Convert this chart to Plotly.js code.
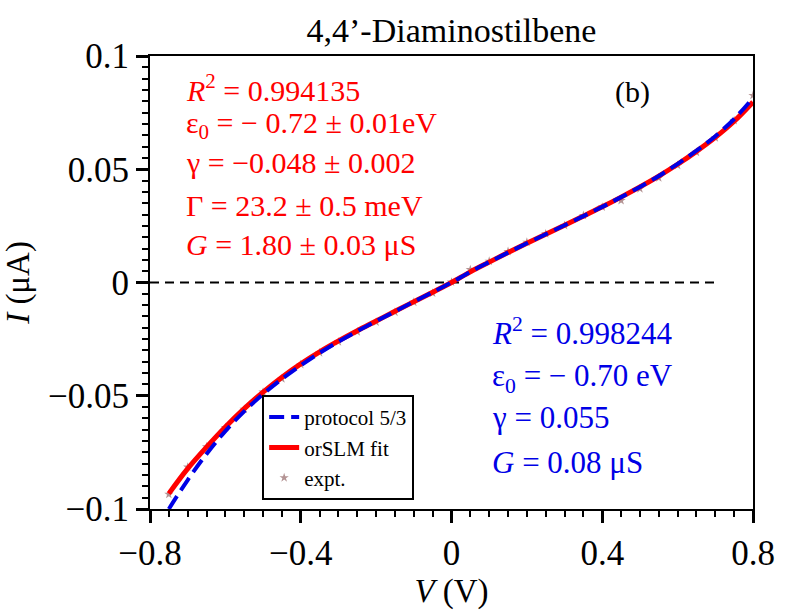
<!DOCTYPE html>
<html><head><meta charset="utf-8">
<script src="https://cdn.plot.ly/plotly-3.0.1.min.js"></script>
<style>html,body{margin:0;padding:0;background:#fff}</style>
</head><body>
<div id="chart" style="width:792px;height:612px"></div>
<script>
// Bias voltage (V)
const voltage = [-0.75,-0.70,-0.65,-0.60,-0.55,-0.50,-0.45,-0.40,-0.35,-0.30,-0.25,-0.20,-0.15,-0.10,-0.05,0.00,
                 0.05,0.10,0.15,0.20,0.25,0.30,0.35,0.40,0.45,0.50,0.55,0.60,0.65,0.70,0.75,0.80];
// orSLM fit current (uA)
const fitCurrent = [-0.0932,-0.0822,-0.0727,-0.0638,-0.0557,-0.0484,-0.0418,-0.0359,-0.0306,-0.0258,-0.0213,-0.0170,-0.0127,-0.0085,-0.0043,0.0000,
                    0.0047,0.0090,0.0132,0.0173,0.0213,0.0253,0.0293,0.0334,0.0377,0.0422,0.0470,0.0522,0.0579,0.0641,0.0712,0.0797];
// protocol 5/3 current (uA)
const protocolCurrent = [-0.1000,-0.0872,-0.0757,-0.0656,-0.0569,-0.0493,-0.0426,-0.0366,-0.0311,-0.0261,-0.0215,-0.0171,-0.0128,-0.0085,-0.0043,0.0000,
                         0.0047,0.0090,0.0132,0.0173,0.0213,0.0253,0.0293,0.0334,0.0377,0.0422,0.0470,0.0524,0.0582,0.0646,0.0722,0.0815];
// experimental current (uA)
const exptCurrent = [-0.0935,-0.0815,-0.0725,-0.0640,-0.0560,-0.0484,-0.0425,-0.0362,-0.0310,-0.0262,-0.0218,-0.0175,-0.0131,-0.0087,-0.0047,0.0002,
                     0.0057,0.0094,0.0137,0.0178,0.0215,0.0252,0.0296,0.0333,0.0362,0.0414,0.0462,0.0517,0.0575,0.0639,0.0715,0.0826];
// dashed zero reference line
const zeroLineV = [-0.8, 0.7];
const zeroLineI = [0, 0];
// axis ticks
const xTickVals = [-0.8,-0.4,0,0.4,0.8];
const xTickText = ['\u22120.8','\u22120.4','0','0.4','0.8'];
const yTickVals = [-0.1,-0.05,0,0.05,0.1];
const yTickText = ['\u22120.1','\u22120.05','0','0.05','0.1'];
// annotation texts
const titleText = '4,4\u2019-Diaminostilbene';
const fitLabels = ['<i>R</i><sup>2</sup> = 0.994135', '\u03b5<sub>0</sub> = \u2212 0.72 \u00b1 0.01eV',
                   '\u03b3 = \u22120.048 \u00b1 0.002', '\u0393 = 23.2 \u00b1 0.5 meV', '<i>G</i> = 1.80 \u00b1 0.03 \u03bcS'];
const protocolLabels = ['<i>R</i><sup>2</sup> = 0.998244', '\u03b5<sub>0</sub> = \u2212 0.70 eV',
                        '\u03b3 = 0.055', '<i>G</i> = 0.08 \u03bcS'];

const FONT = 'Liberation Serif, Times New Roman, serif';
const fitY = [0.929, 0.848, 0.764, 0.671, 0.583];
const protY = [0.391, 0.289, 0.201, 0.102];

const traces = [
  {x: zeroLineV, y: zeroLineI, mode: 'lines', showlegend: false, hoverinfo: 'skip',
   line: {color: '#000', width: 2, dash: '9px,6px'}},
  {x: voltage, y: exptCurrent, mode: 'markers', name: 'expt.', legendrank: 3,
   marker: {symbol: 'star', size: 7, color: '#b49494'}},
  {x: voltage, y: fitCurrent, mode: 'lines', name: 'orSLM fit', legendrank: 2,
   line: {color: '#ff0000', width: 5, shape: 'spline'}},
  {x: voltage, y: protocolCurrent, mode: 'lines', name: 'protocol 5/3', legendrank: 1,
   line: {color: '#0000e6', width: 4, dash: '15px,7px', shape: 'spline'}}
];

const annotations = [];
fitLabels.forEach((t, i) => annotations.push({text: t, xref: 'paper', yref: 'paper', x: 0.056, y: fitY[i],
  xanchor: 'left', yanchor: 'middle', showarrow: false, font: {family: FONT, size: 30, color: '#ff0000'}}));
protocolLabels.forEach((t, i) => annotations.push({text: t, xref: 'paper', yref: 'paper', x: 0.564, y: protY[i],
  xanchor: 'left', yanchor: 'middle', showarrow: false, font: {family: FONT, size: 31, color: '#0000e6'}}));
annotations.push({text: '(b)', xref: 'paper', yref: 'paper', x: 0.80, y: 0.921, xanchor: 'center', yanchor: 'middle',
  showarrow: false, font: {family: FONT, size: 30, color: '#000'}});

const layout = {
  width: 792, height: 612,
  margin: {l: 150, r: 39, t: 56, b: 103},
  paper_bgcolor: '#fff', plot_bgcolor: '#fff',
  font: {family: FONT, color: '#000'},
  title: {text: titleText, font: {family: FONT, size: 34, color: '#000'}, x: 0.5, xanchor: 'center',
          y: 0.951, yanchor: 'middle', xref: 'paper', yref: 'container'},
  xaxis: {range: [-0.8, 0.8], tickvals: xTickVals, ticktext: xTickText, showgrid: false, zeroline: false,
          showline: true, linecolor: '#000', linewidth: 2, mirror: true,
          ticks: 'outside', ticklen: 12, tickwidth: 3, tickcolor: '#000',
          minor: {dtick: 0.05, ticks: 'outside', ticklen: 6, tickwidth: 2, tickcolor: '#000', showgrid: false},
          tickfont: {family: FONT, size: 35, color: '#000'},
          title: {text: '<i>V</i> (V)', font: {family: FONT, size: 33, color: '#000'}, standoff: 4}},
  yaxis: {range: [-0.1, 0.1], tickvals: yTickVals, ticktext: yTickText, showgrid: false, zeroline: false,
          showline: true, linecolor: '#000', linewidth: 2, mirror: true,
          ticks: 'outside', ticklen: 12, tickwidth: 3, tickcolor: '#000',
          minor: {dtick: 0.005, ticks: 'outside', ticklen: 6, tickwidth: 2, tickcolor: '#000', showgrid: false},
          tickfont: {family: FONT, size: 35, color: '#000'},
          title: {text: '<i>I</i> (\u03bcA)', font: {family: FONT, size: 33, color: '#000'}, standoff: 10}},
  legend: {x: 0.186, y: 0.02, xanchor: 'left', yanchor: 'bottom', bgcolor: '#fff',
           bordercolor: '#000', borderwidth: 2, font: {family: FONT, size: 21, color: '#000'},
           itemwidth: 30, tracegroupgap: 0, traceorder: 'normal'},
  annotations: annotations,
  showlegend: true
};

Plotly.newPlot('chart', traces, layout, {displayModeBar: false, staticPlot: true});
</script>
</body></html>
